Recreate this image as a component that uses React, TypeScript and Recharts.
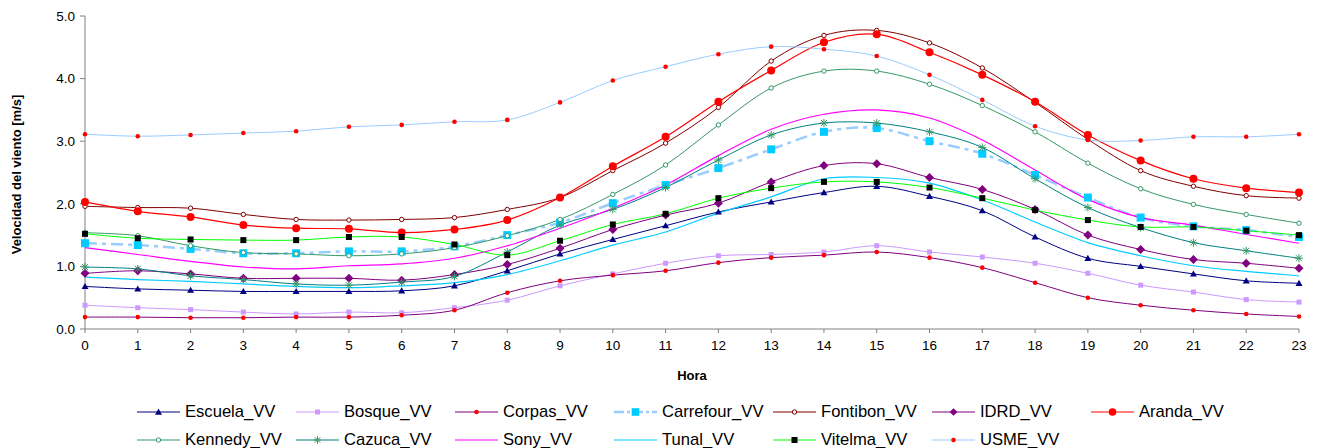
import React from 'react';
import { LineChart, Line, XAxis, YAxis, Legend } from 'recharts';

const HORAS = [0, 1, 2, 3, 4, 5, 6, 7, 8, 9, 10, 11, 12, 13, 14, 15, 16, 17, 18, 19, 20, 21, 22, 23];
const Y_TICKS = [0, 1, 2, 3, 4, 5];

const ESCUELA = [0.68, 0.64, 0.62, 0.60, 0.60, 0.60, 0.61, 0.69, 0.93, 1.20, 1.43, 1.65, 1.87, 2.03, 2.18, 2.28, 2.12, 1.89, 1.47, 1.13, 1.00, 0.88, 0.77, 0.73];
const BOSQUE = [0.38, 0.34, 0.31, 0.27, 0.24, 0.27, 0.26, 0.34, 0.46, 0.69, 0.88, 1.05, 1.17, 1.19, 1.23, 1.33, 1.23, 1.15, 1.05, 0.89, 0.70, 0.59, 0.47, 0.43];
const CORPAS = [0.19, 0.19, 0.18, 0.18, 0.19, 0.19, 0.22, 0.30, 0.58, 0.77, 0.86, 0.93, 1.06, 1.14, 1.18, 1.23, 1.14, 0.98, 0.74, 0.50, 0.38, 0.30, 0.24, 0.20];
const CARREFOUR = [1.37, 1.34, 1.28, 1.21, 1.21, 1.24, 1.24, 1.32, 1.50, 1.70, 2.01, 2.30, 2.57, 2.87, 3.15, 3.21, 3.00, 2.80, 2.46, 2.10, 1.78, 1.64, 1.58, 1.47];
const FONTIBON = [1.96, 1.94, 1.93, 1.83, 1.75, 1.74, 1.75, 1.78, 1.91, 2.10, 2.53, 2.97, 3.54, 4.28, 4.69, 4.77, 4.57, 4.17, 3.62, 3.03, 2.53, 2.28, 2.13, 2.09];
const IDRD = [0.89, 0.93, 0.88, 0.81, 0.81, 0.81, 0.78, 0.87, 1.03, 1.29, 1.59, 1.82, 2.01, 2.35, 2.61, 2.64, 2.42, 2.23, 1.91, 1.50, 1.27, 1.11, 1.05, 0.97];
const ARANDA = [2.03, 1.88, 1.79, 1.66, 1.61, 1.60, 1.54, 1.59, 1.74, 2.10, 2.60, 3.07, 3.63, 4.13, 4.58, 4.71, 4.42, 4.06, 3.63, 3.10, 2.69, 2.40, 2.25, 2.18];
const KENNEDY = [1.54, 1.49, 1.33, 1.22, 1.20, 1.17, 1.20, 1.30, 1.49, 1.75, 2.15, 2.62, 3.26, 3.85, 4.12, 4.12, 3.91, 3.57, 3.15, 2.65, 2.24, 1.99, 1.83, 1.69];
const CAZUCA = [0.99, 0.96, 0.85, 0.79, 0.72, 0.70, 0.75, 0.84, 1.23, 1.66, 1.91, 2.26, 2.70, 3.10, 3.29, 3.29, 3.15, 2.90, 2.40, 1.94, 1.62, 1.38, 1.25, 1.13];
const SONY = [1.30, 1.19, 1.08, 0.99, 0.96, 1.01, 1.04, 1.13, 1.33, 1.61, 1.93, 2.30, 2.77, 3.19, 3.43, 3.50, 3.37, 3.02, 2.54, 2.07, 1.78, 1.66, 1.51, 1.37];
const TUNAL = [0.83, 0.79, 0.76, 0.72, 0.68, 0.66, 0.69, 0.74, 0.87, 1.09, 1.34, 1.55, 1.85, 2.11, 2.40, 2.42, 2.33, 2.06, 1.71, 1.38, 1.17, 1.01, 0.92, 0.85];
const VITELMA = [1.52, 1.45, 1.43, 1.42, 1.42, 1.47, 1.47, 1.35, 1.18, 1.41, 1.67, 1.84, 2.09, 2.25, 2.35, 2.35, 2.26, 2.09, 1.90, 1.74, 1.63, 1.63, 1.57, 1.50];
const USME = [3.11, 3.08, 3.10, 3.13, 3.16, 3.23, 3.26, 3.31, 3.34, 3.62, 3.97, 4.19, 4.39, 4.51, 4.47, 4.36, 4.06, 3.66, 3.24, 3.02, 3.01, 3.07, 3.07, 3.11];

const SERIES_NAMES = [
  'Escuela_VV', 'Bosque_VV', 'Corpas_VV', 'Carrefour_VV', 'Fontibon_VV', 'IDRD_VV', 'Aranda_VV',
  'Kennedy_VV', 'Cazuca_VV', 'Sony_VV', 'Tunal_VV', 'Vitelma_VV', 'USME_VV',
];
const SERIES_VALUES = [ESCUELA, BOSQUE, CORPAS, CARREFOUR, FONTIBON, IDRD, ARANDA, KENNEDY, CAZUCA, SONY, TUNAL, VITELMA, USME];

const data = HORAS.map((h, i) => {
  const row: any = { hora: h };
  SERIES_NAMES.forEach((n, k) => { row[n] = SERIES_VALUES[k][i]; });
  return row;
});

type Style = { stroke: string; width: number; dash?: string; marker: string; mColor: string; size: number };
const STYLES: Record<string, Style> = {
  Escuela_VV: { stroke: '#000080', width: 1, marker: 'triangle', mColor: '#000080', size: 3.5 },
  Bosque_VV: { stroke: '#CC99FF', width: 1, marker: 'square', mColor: '#CC99FF', size: 2.5 },
  Corpas_VV: { stroke: '#800080', width: 1, marker: 'circle', mColor: '#FF0000', size: 2.3 },
  Carrefour_VV: { stroke: '#99CCFF', width: 2.5, dash: '12 5 4 5', marker: 'square', mColor: '#00CCFF', size: 4 },
  Fontibon_VV: { stroke: '#800000', width: 1, marker: 'ocircle', mColor: '#800000', size: 2.2 },
  IDRD_VV: { stroke: '#800080', width: 1, marker: 'diamond', mColor: '#800080', size: 4.5 },
  Aranda_VV: { stroke: '#FF0000', width: 1.2, marker: 'circle', mColor: '#FF0000', size: 4 },
  Kennedy_VV: { stroke: '#339966', width: 1, marker: 'ocircle', mColor: '#339966', size: 2.2 },
  Cazuca_VV: { stroke: '#008080', width: 1, marker: 'asterisk', mColor: '#339966', size: 4 },
  Sony_VV: { stroke: '#FF00FF', width: 1.2, marker: 'none', mColor: '#FF00FF', size: 0 },
  Tunal_VV: { stroke: '#00CCFF', width: 1.2, marker: 'none', mColor: '#00CCFF', size: 0 },
  Vitelma_VV: { stroke: '#00FF00', width: 1, marker: 'square', mColor: '#000000', size: 3 },
  USME_VV: { stroke: '#99CCFF', width: 1, marker: 'circle', mColor: '#FF0000', size: 2.3 },
};

const FONT = '"Liberation Sans", Arial, sans-serif';

// Excel-like smoothed curve (uniform Catmull-Rom)
function excelSmooth(context: any) {
  let pts: number[][] = [];
  return {
    areaStart() {},
    areaEnd() {},
    lineStart() { pts = []; },
    point(x: number, y: number) { pts.push([+x, +y]); },
    lineEnd() {
      const n = pts.length;
      if (!n) return;
      context.moveTo(pts[0][0], pts[0][1]);
      if (n === 1) return;
      for (let i = 0; i < n - 1; i++) {
        const p0 = pts[Math.max(i - 1, 0)];
        const p1 = pts[i];
        const p2 = pts[i + 1];
        const p3 = pts[Math.min(i + 2, n - 1)];
        context.bezierCurveTo(
          p1[0] + (p2[0] - p0[0]) / 6, p1[1] + (p2[1] - p0[1]) / 6,
          p2[0] - (p3[0] - p1[0]) / 6, p2[1] - (p3[1] - p1[1]) / 6,
          p2[0], p2[1],
        );
      }
    },
  };
}

function Marker({ s, cx, cy }: { s: Style; cx: number; cy: number }) {
  const r = s.size;
  const c = s.mColor;
  switch (s.marker) {
    case 'triangle':
      return <polygon points={`${cx},${cy - r} ${cx + r},${cy + r * 0.75} ${cx - r},${cy + r * 0.75}`} fill={c} />;
    case 'square':
      return <rect x={cx - r} y={cy - r} width={2 * r} height={2 * r} fill={c} />;
    case 'circle':
      return <circle cx={cx} cy={cy} r={r} fill={c} />;
    case 'ocircle':
      return <circle cx={cx} cy={cy} r={r} fill="#fff" stroke={c} strokeWidth={1} />;
    case 'diamond':
      return <polygon points={`${cx},${cy - r} ${cx + r},${cy} ${cx},${cy + r} ${cx - r},${cy}`} fill={c} />;
    case 'asterisk':
      return (
        <g stroke={c} strokeWidth={1}>
          <line x1={cx - r} y1={cy} x2={cx + r} y2={cy} />
          <line x1={cx} y1={cy - r} x2={cx} y2={cy + r} />
          <line x1={cx - r * 0.75} y1={cy - r * 0.75} x2={cx + r * 0.75} y2={cy + r * 0.75} />
          <line x1={cx - r * 0.75} y1={cy + r * 0.75} x2={cx + r * 0.75} y2={cy - r * 0.75} />
        </g>
      );
    default:
      return null;
  }
}

function makeDot(name: string) {
  const s = STYLES[name];
  if (s.marker === 'none') return false;
  return (props: any) => {
    const { cx, cy, index } = props;
    if (cx == null || cy == null) return <g key={`${name}-${index}`} />;
    return <g key={`${name}-${index}`}><Marker s={s} cx={cx} cy={cy} /></g>;
  };
}

function LegendContent() {
  return (
    <div style={{ position: 'relative', width: 1318, height: 53, fontFamily: FONT, fontSize: 16.6, color: '#000' }}>
      {SERIES_NAMES.map((n, i) => {
        const s = STYLES[n];
        const row = i < 7 ? 0 : 1;
        const col = row ? i - 7 : i;
        const left = 137 + 159 * col;
        const top = (row ? 44.5 : 16.5) - 9;
        return (
          <div key={n} style={{ position: 'absolute', left, top, height: 18, display: 'flex', alignItems: 'center', whiteSpace: 'nowrap' }}>
            <svg width={43} height={18} style={{ display: 'block' }}>
              <line x1={0} y1={9} x2={43} y2={9} stroke={s.stroke} strokeWidth={s.dash ? 2.5 : 1.2} strokeDasharray={s.dash ? '10 3 3 3' : undefined} />
              {s.marker !== 'none' && <Marker s={{ ...s, size: Math.min(s.size, 3.8) }} cx={21.5} cy={9} />}
            </svg>
            <span style={{ marginLeft: 5, lineHeight: '18px' }}>{n}</span>
          </div>
        );
      })}
    </div>
  );
}

function YTitle(props: any) {
  const vb = props.viewBox || { x: 0, y: 16, width: 85, height: 313 };
  const cx = 16;
  const cy = vb.y + vb.height / 2 + 2;
  return (
    <text x={cx} y={cy} transform={`rotate(-90 ${cx} ${cy})`} textAnchor="middle" dominantBaseline="central"
      style={{ fontFamily: FONT, fontSize: 13, fontWeight: 'bold', fill: '#000' }}>
      Velocidad del viento [m/s]
    </text>
  );
}

function XTitle(props: any) {
  const vb = props.viewBox || { x: 85, y: 329, width: 1214, height: 55 };
  const cx = vb.x + vb.width / 2;
  const cy = vb.y + 46;
  return (
    <text x={cx} y={cy} textAnchor="middle" dominantBaseline="central"
      style={{ fontFamily: FONT, fontSize: 13, fontWeight: 'bold', fill: '#000' }}>
      Hora
    </text>
  );
}

export default function App() {
  const tickStyle = { fontFamily: FONT, fontSize: 13.5, fill: '#000' };
  return (
    <div style={{ position: 'absolute', left: 0, top: 0, width: 1318, height: 448, background: '#fff' }}>
      <LineChart width={1318} height={448} data={data} margin={{ top: 16, right: 19, left: 0, bottom: 11 }}>
        <XAxis
          type="number"
          dataKey="hora"
          domain={[0, 23]}
          ticks={HORAS}
          interval={0}
          height={55}
          tick={tickStyle}
          tickSize={4}
          tickMargin={7}
          stroke="#808080"
          label={<XTitle />}
        />
        <YAxis
          type="number"
          domain={[0, 5]}
          ticks={Y_TICKS}
          width={85}
          tick={tickStyle}
          tickSize={5}
          tickMargin={5}
          tickFormatter={(v: number) => v.toFixed(1)}
          stroke="#808080"
          label={<YTitle />}
        />
        <Legend
          verticalAlign="bottom"
          content={<LegendContent />}
          wrapperStyle={{ left: 0, top: 395, bottom: 'auto', width: 1318, height: 53 }}
        />
        {SERIES_NAMES.map((n) => {
          const s = STYLES[n];
          return (
            <Line
              key={n}
              dataKey={n}
              name={n}
              type={excelSmooth as any}
              stroke={s.stroke}
              strokeWidth={s.width}
              strokeDasharray={s.dash}
              dot={makeDot(n) as any}
              activeDot={false}
              isAnimationActive={false}
            />
          );
        })}
      </LineChart>
    </div>
  );
}
